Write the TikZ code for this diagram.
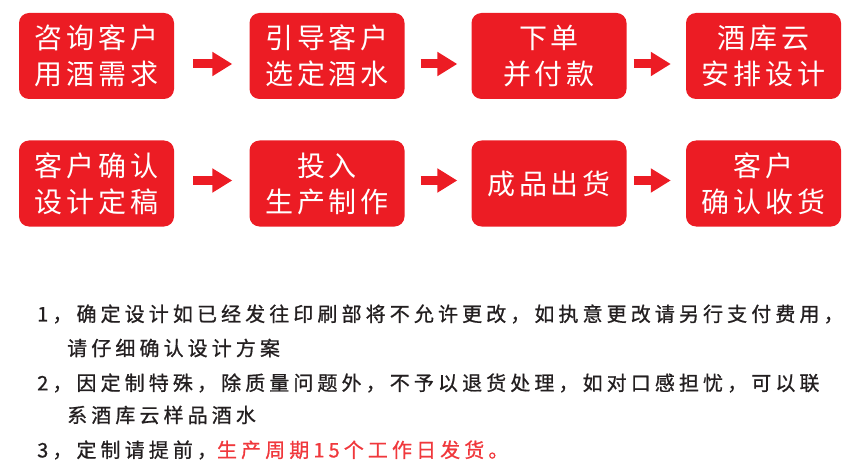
\documentclass[tikz,border=0pt]{standalone}
\usepackage{fontspec}
\usetikzlibrary{arrows.meta}
\newfontfamily\cjkbox[LetterSpace=14]{Noto Sans CJK SC}
\newfontfamily\cjknote[LetterSpace=20.5,FakeBold=0.8]{Noto Sans CJK SC}
\definecolor{boxred}{HTML}{EC1C24}
\definecolor{notered}{HTML}{F0383C}
\definecolor{notegray}{HTML}{231F20}
\tikzset{
  stepbox/.style={fill=boxred, rounded corners=10pt, minimum width=155pt, minimum height=86pt,
    inner sep=0pt, text=white, align=center, font=\cjkbox\fontsize{28pt}{36pt}\selectfont},
  flowarrow/.style={draw=boxred, line width=9pt, -{Triangle[length=20pt,width=23pt]}},
  notetext/.style={anchor=west, inner sep=0pt, text=notegray, font=\cjknote\fontsize{20pt}{24pt}\selectfont}
}
\begin{document}
\begin{tikzpicture}[x=1pt,y=-1pt]
\useasboundingbox (0,0) rectangle (858,473);
% row 1
\node[stepbox] (b1) at (96.5,56) {咨询客户\\用酒需求};
\node[stepbox] (b2) at (327,56) {引导客户\\选定酒水};
\node[stepbox] (b3) at (549,56) {下单\\并付款};
\node[stepbox] (b4) at (763.5,56) {酒库云\\安排设计};
% row 2
\node[stepbox] (c1) at (96.5,183.5) {客户确认\\设计定稿};
\node[stepbox] (c2) at (327,183.5) {投入\\生产制作};
\node[stepbox] (c3) at (549,183.5) {成品出货};
\node[stepbox] (c4) at (763.5,183.5) {客户\\确认收货};
% arrows
\draw[flowarrow, shorten <=19pt, shorten >=17pt] ([yshift=-8pt]b1.east) -- ([yshift=-8pt]b2.west);
\draw[flowarrow, shorten <=16pt, shorten >=14pt] ([yshift=-8pt]b2.east) -- ([yshift=-8pt]b3.west);
\draw[flowarrow, shorten <=7pt, shorten >=15pt] ([yshift=-8pt]b3.east) -- ([yshift=-8pt]b4.west);
\draw[flowarrow, shorten <=19pt, shorten >=17pt] ([yshift=3pt]c1.east) -- ([yshift=3pt]c2.west);
\draw[flowarrow, shorten <=16pt, shorten >=14pt] ([yshift=3pt]c2.east) -- ([yshift=3pt]c3.west);
\draw[flowarrow, shorten <=7pt, shorten >=15pt] ([yshift=3pt]c3.east) -- ([yshift=3pt]c4.west);
% notes
\node[notetext] (n1) at (37,314) {1，确定设计如已经发往印刷部将不允许更改，如执意更改请另行支付费用，};
\node[notetext] (n2) at (67,348) {请仔细确认设计方案};
\node[notetext] (n3) at (37,383) {2，因定制特殊，除质量问题外，不予以退货处理，如对口感担忧，可以联};
\node[notetext] (n4) at (67,415) {系酒库云样品酒水};
\node[notetext] (n5) at (37,450) {3，定制请提前，\textcolor{notered}{生产周期15个工作日发货。}};
\end{tikzpicture}
\end{document}
